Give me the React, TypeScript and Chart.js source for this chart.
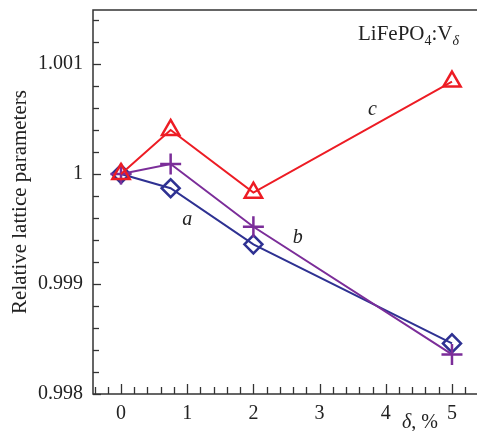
import React, { useEffect, useRef } from "react";
import { Chart, registerables } from "chart.js";

Chart.register(...registerables);

// ---- data ----
const deltaValues = [0, 0.75, 2, 5];
const seriesA = [1.0, 0.99987, 0.99936, 0.99846]; // blue diamonds
const seriesB = [1.0, 1.00009, 0.99952, 0.99836]; // purple crosses
const seriesC = [1.0, 1.0004, 0.99983, 1.00084]; // red triangles
const xTickValues = [0, 1, 2, 3, 4, 5];
const xTickLabels = ["0", "1", "2", "3", "4", "5"];
const yTickValues = [0.998, 0.999, 1, 1.001];
const yTickLabels = ["0.998", "0.999", "1", "1.001"];

const RED = "#ed1c24";
const PURPLE = "#7b2d99";
const BLUE = "#2e3192";
const AXIS = "#333333";
const SERIF = "'Liberation Serif', 'Times New Roman', serif";

const X_MIN = -0.423;
const X_MAX = 5.378;
const Y_MIN = 0.998;
const Y_MAX = 1.00149;

// canvas is shifted so that Chart.js's point-overflow padding falls outside the page
const OFFX = 13;
const OFFY = 3;
const CW = 477 + 2 * OFFX;
const CH = 431 + OFFY + 13;

const decorPlugin = {
  id: "decor",
  afterDraw(chart: any) {
    const ctx = chart.ctx as CanvasRenderingContext2D;
    const xs = chart.scales.x;
    const ys = chart.scales.y;
    const { left, right, top, bottom } = chart.chartArea;
    ctx.save();
    ctx.strokeStyle = AXIS;
    ctx.lineWidth = 1.5;
    ctx.beginPath();
    ctx.moveTo(right + 2, top);
    ctx.lineTo(left, top);
    ctx.lineTo(left, bottom);
    ctx.lineTo(right + 2, bottom);
    ctx.stroke();
    ctx.lineWidth = 1.3;
    for (let i = 0; i <= 17; i++) {
      const v = Y_MIN + i * 0.0002;
      if (v > Y_MAX) break;
      const p = Math.round(ys.getPixelForValue(v)) + 0.5;
      const major = i % 5 === 0;
      ctx.beginPath();
      ctx.moveTo(left, p);
      ctx.lineTo(left + (major ? 8 : 6), p);
      ctx.stroke();
    }
    for (let i = -2; i <= 27; i++) {
      const v = i * 0.2;
      if (v < X_MIN || v > X_MAX) continue;
      const p = Math.round(xs.getPixelForValue(v)) + 0.5;
      const major = i % 5 === 0;
      ctx.beginPath();
      ctx.moveTo(p, bottom);
      ctx.lineTo(p, bottom - (major ? 10 : 7));
      ctx.stroke();
    }
    ctx.fillStyle = "#222";
    ctx.textAlign = "center";
    ctx.textBaseline = "middle";
    ctx.font = `italic 20px ${SERIF}`;
    ctx.fillText("a", xs.getPixelForValue(1.0), ys.getPixelForValue(0.99958));
    ctx.fillText("b", xs.getPixelForValue(2.67), ys.getPixelForValue(0.99942));
    ctx.fillText("c", xs.getPixelForValue(3.8), ys.getPixelForValue(1.00058));

    ctx.translate(OFFX, OFFY);
    ctx.textAlign = "left";
    ctx.textBaseline = "alphabetic";
    let x = 402;
    const yb = 428;
    ctx.font = `italic 20px ${SERIF}`;
    ctx.fillText("δ", x, yb);
    x += ctx.measureText("δ").width;
    ctx.font = `20px ${SERIF}`;
    ctx.fillText(", %", x, yb);

    x = 358;
    const base = 40;
    ctx.font = `21px ${SERIF}`;
    ctx.fillText("LiFePO", x, base);
    x += ctx.measureText("LiFePO").width;
    ctx.font = `14px ${SERIF}`;
    ctx.fillText("4", x, base + 5);
    x += ctx.measureText("4").width;
    ctx.font = `21px ${SERIF}`;
    ctx.fillText(":V", x, base);
    x += ctx.measureText(":V").width;
    ctx.font = `italic 14px ${SERIF}`;
    ctx.fillText("δ", x, base + 5);
    ctx.restore();
  },
};

const zeroPad = (s: any) => {
  s.paddingTop = 0;
  s.paddingBottom = 0;
  s.paddingLeft = 0;
  s.paddingRight = 0;
};

export default function App() {
  const ref = useRef<HTMLCanvasElement | null>(null);
  useEffect(() => {
    if (!ref.current) return;
    const mk = (data: number[]) => data.map((v, i) => ({ x: deltaValues[i], y: v }));
    const chart = new Chart(ref.current, {
      type: "line",
      data: {
        datasets: [
          {
            label: "c",
            data: mk(seriesC),
            borderColor: RED,
            backgroundColor: "rgba(0,0,0,0)",
            borderWidth: 2,
            pointStyle: "triangle",
            pointRadius: 10,
            pointBorderWidth: 2.5,
            pointBorderColor: RED,
            pointBackgroundColor: "rgba(0,0,0,0)",
          },
          {
            label: "b",
            data: mk(seriesB),
            borderColor: PURPLE,
            backgroundColor: "rgba(0,0,0,0)",
            borderWidth: 2,
            pointStyle: "cross",
            pointRadius: 10.5,
            pointBorderWidth: 2.5,
            pointBorderColor: PURPLE,
            pointBackgroundColor: "rgba(0,0,0,0)",
          },
          {
            label: "a",
            data: mk(seriesA),
            borderColor: BLUE,
            backgroundColor: "rgba(0,0,0,0)",
            borderWidth: 2,
            pointStyle: "rectRot",
            pointRadius: 9,
            pointBorderWidth: 2.5,
            pointBorderColor: BLUE,
            pointBackgroundColor: "rgba(0,0,0,0)",
          },
        ],
      },
      options: {
        animation: false,
        responsive: false,
        events: [],
        layout: { padding: { left: OFFX, right: OFFX, top: OFFY + 10, bottom: 13 } },
        plugins: { legend: { display: false }, tooltip: { enabled: false } },
        scales: {
          x: {
            type: "linear",
            min: X_MIN,
            max: X_MAX,
            afterBuildTicks: (s: any) => {
              s.ticks = xTickValues.map((v) => ({ value: v }));
            },
            afterFit: (s: any) => {
              s.height = 37;
              zeroPad(s);
            },
            grid: { display: false, drawTicks: false },
            border: { display: false },
            ticks: {
              padding: 8,
              color: "#222",
              font: { family: SERIF, size: 20 },
              maxRotation: 0,
              autoSkip: false,
              callback: (v: any) => {
                const i = xTickValues.indexOf(Number(v));
                return i >= 0 ? xTickLabels[i] : "";
              },
            },
          },
          y: {
            type: "linear",
            min: Y_MIN,
            max: Y_MAX,
            afterBuildTicks: (s: any) => {
              s.ticks = yTickValues.map((v) => ({ value: v }));
            },
            afterFit: (s: any) => {
              s.width = 93;
              zeroPad(s);
            },
            grid: { display: false, drawTicks: false },
            border: { display: false },
            title: {
              display: true,
              text: "Relative lattice parameters",
              color: "#222",
              font: { family: SERIF, size: 21 },
              padding: { top: 8, bottom: 0 },
            },
            ticks: {
              padding: 10,
              color: "#222",
              font: { family: SERIF, size: 20 },
              autoSkip: false,
              callback: (v: any) => {
                const i = yTickValues.findIndex((t) => Math.abs(t - Number(v)) < 1e-9);
                return i >= 0 ? yTickLabels[i] : "";
              },
            },
          },
        },
      },
      plugins: [decorPlugin],
    });
    return () => chart.destroy();
  }, []);
  return (
    <div
      style={{
        position: "absolute",
        left: 0,
        top: 0,
        width: 477,
        height: 431,
        overflow: "hidden",
        background: "#fff",
      }}
    >
      <canvas
        ref={ref}
        width={CW}
        height={CH}
        style={{ display: "block", position: "absolute", left: -OFFX, top: -OFFY }}
      />
    </div>
  );
}
